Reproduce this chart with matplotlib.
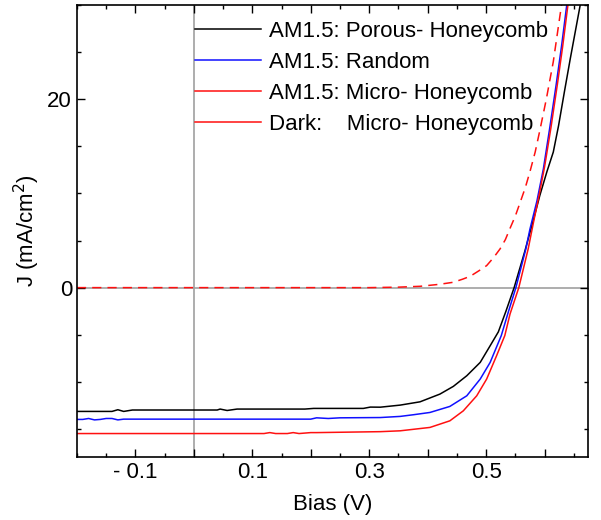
import numpy as np
import matplotlib.pyplot as plt
from matplotlib.ticker import MultipleLocator

plt.rcParams['font.family'] = ['Liberation Sans', 'DejaVu Sans']

# J-V data (Bias in V, J in mA/cm2)
porous_v = [-0.2, -0.14, -0.13, -0.12, -0.105, 0.04, 0.045, 0.057, 0.074, 0.19, 0.205, 0.29, 0.302,
            0.319, 0.353, 0.387, 0.421, 0.444, 0.467, 0.490, 0.507, 0.521, 0.534, 0.548,
            0.566, 0.581, 0.592, 0.604, 0.615, 0.624, 0.634, 0.644, 0.661, 0.67]
porous_j = [-13.15, -13.15, -12.97, -13.15, -13.0, -13.0, -12.9, -13.05, -12.9, -12.9, -12.83, -12.83, -12.69,
            -12.7, -12.48, -12.13, -11.31, -10.49, -9.36, -7.94, -6.17, -4.7, -2.5, 0,
            3.8, 7.2, 9.8, 12.3, 14.4, 17.2, 20.8, 24.3, 30, 33]

random_v = [-0.2, -0.19, -0.18, -0.17, -0.16, -0.15, -0.14, -0.13, -0.12, 0.2, 0.21, 0.23, 0.25,
            0.319, 0.353, 0.376, 0.404, 0.438, 0.467, 0.490, 0.507, 0.526, 0.538, 0.551,
            0.568, 0.575, 0.587, 0.598, 0.609, 0.620, 0.629, 0.638, 0.65]
random_j = [-14.0, -14.0, -13.9, -14.05, -14.0, -13.9, -13.9, -14.05, -13.97, -13.97, -13.83, -13.9, -13.83,
            -13.8, -13.68, -13.5, -13.26, -12.62, -11.49, -9.71, -7.94, -5.1, -2.6, 0,
            4.1, 6.2, 9.2, 12.6, 17.0, 21.6, 25.6, 30, 35]

micro_v = [-0.2, 0.12, 0.13, 0.14, 0.16, 0.17, 0.18, 0.19, 0.2, 0.21, 0.319, 0.353, 0.404, 0.438,
           0.461, 0.484, 0.501, 0.518, 0.532, 0.541, 0.556, 0.572, 0.581, 0.590, 0.600,
           0.611, 0.622, 0.631, 0.640, 0.65]
micro_j = [-15.5, -15.5, -15.4, -15.5, -15.5, -15.4, -15.5, -15.45, -15.4, -15.4, -15.3, -15.21, -14.85, -14.15,
           -13.09, -11.49, -9.71, -7.23, -5.1, -2.8, 0, 4.1, 6.9, 9.6, 12.8,
           17.0, 21.6, 25.6, 30, 34]

dark_v = [-0.2, 0.3, 0.35, 0.387, 0.42, 0.444, 0.46, 0.473, 0.488, 0.501, 0.513, 0.524, 0.533,
          0.541, 0.550, 0.558, 0.567, 0.575, 0.584, 0.592, 0.603, 0.615, 0.629, 0.64]
dark_j = [0, 0, 0.05, 0.14, 0.35, 0.57, 0.9, 1.21, 1.8, 2.34, 3.2, 4.12, 5.1,
          6.3, 7.6, 9.0, 10.6, 12.3, 14.4, 16.7, 20.0, 24.0, 30, 34]

xticks = [-0.1, 0.0, 0.1, 0.2, 0.3, 0.4, 0.5, 0.6]
xticklabels = ['- 0.1', '', '0.1', '', '0.3', '', '0.5', '']
yticks = [0, 20]

fig = plt.figure(figsize=(6.01, 5.2), dpi=100)
ax = fig.add_axes([0.128, 0.121, 0.85, 0.869])

ax.axhline(0, color='#a0a0a0', lw=1.2, zorder=1)
ax.axvline(0, color='#a0a0a0', lw=1.2, zorder=1)

ax.plot(porous_v, porous_j, color='black', lw=1.1, label='AM1.5: Porous- Honeycomb')
ax.plot(random_v, random_j, color='#1010ff', lw=1.1, label='AM1.5: Random')
ax.plot(micro_v, micro_j, color='#ff1010', lw=1.1, label='AM1.5: Micro- Honeycomb')
ax.plot(dark_v, dark_j, color='#ff1010', lw=1.1, ls=(0, (6, 4)))
# legend shows the dark curve with a solid line, as in the original
ax.plot([], [], color='#ff1010', lw=1.1, label='Dark:    Micro- Honeycomb')

ax.set_xlim(-0.2, 0.674)
ax.set_ylim(-18, 30)

ax.set_xticks(xticks)
ax.set_xticklabels(xticklabels)
ax.xaxis.set_minor_locator(MultipleLocator(0.05))
ax.set_yticks(yticks)
ax.yaxis.set_minor_locator(MultipleLocator(5))
ax.tick_params(which='both', direction='in', top=True, right=True, labelsize=16, width=1)
ax.tick_params(which='major', length=6)
ax.tick_params(which='minor', length=3)
for s in ax.spines.values():
    s.set_linewidth(1.2)

ax.set_xlabel('Bias (V)', fontsize=16, labelpad=8)
ax.set_ylabel('J (mA/cm$^2$)', fontsize=16, labelpad=4)

ax.legend(loc='upper left', bbox_to_anchor=(0.2, 1.0), frameon=False, fontsize=16,
          handlelength=3.0, handletextpad=0.35, labelspacing=0.45, borderaxespad=0.3)

fig.savefig('out.png', dpi=100)
